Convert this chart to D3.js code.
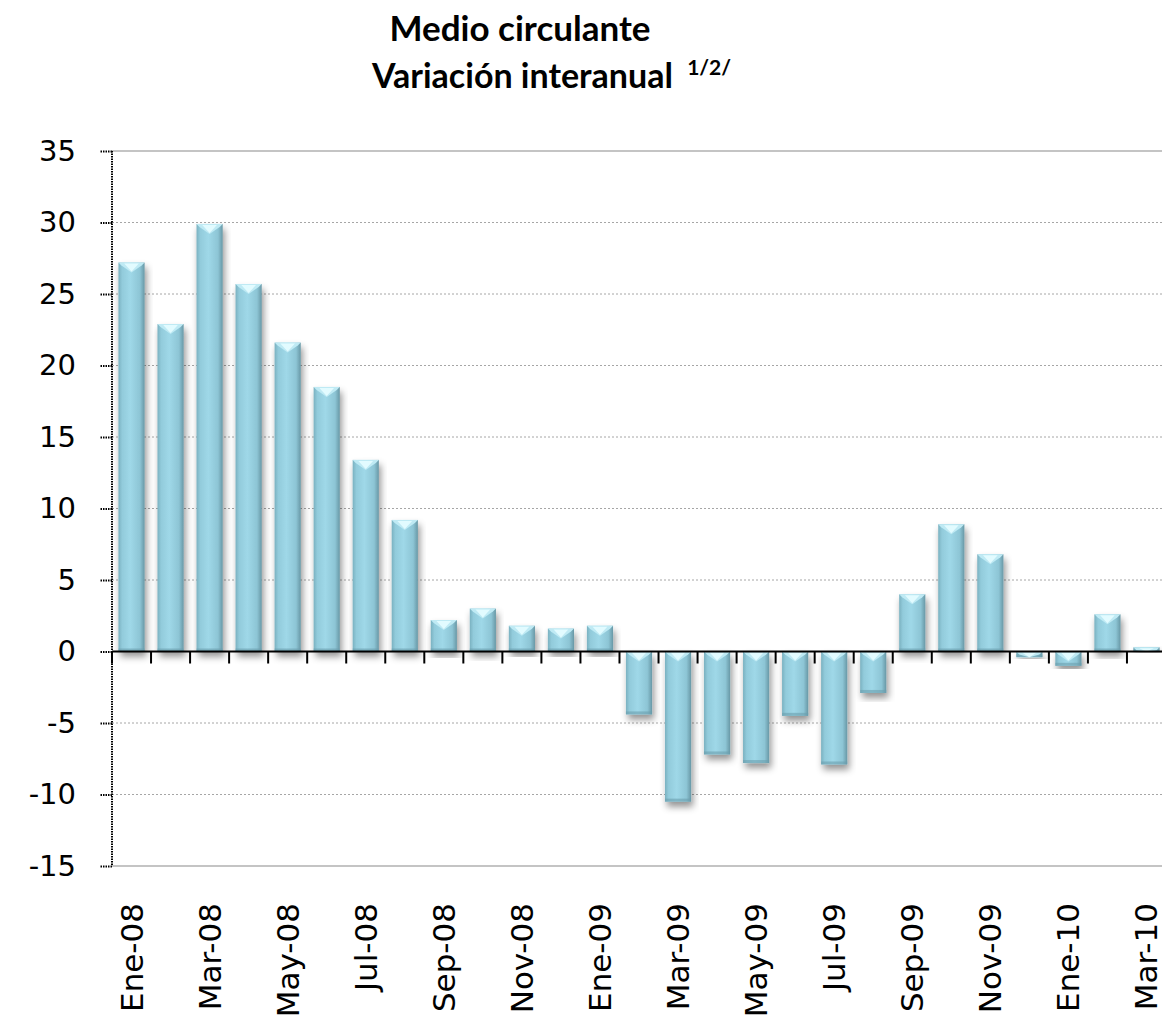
<!DOCTYPE html>
<html lang="es">
  <head>
    <meta charset="utf-8">
    <title>Medio circulante</title>
    <style>
      body { margin: 0; background: #fff; }
      .tick text { font-family: "DejaVu Sans", sans-serif; fill: #000; }
      .title { font-family: Lato, "Open Sans", sans-serif; font-weight: 700; fill: #000; }
      .grid { stroke: #a6a6a6; stroke-width: 1px; stroke-dasharray: 2px 2px; }
      .border { stroke: #b0b0b0; stroke-width: 1.5px; }
    </style>
  </head>
  <body>
    <svg width="1162" height="1017"></svg>
    <script src="https://d3js.org/d3.v7.min.js"></script>
    <script>

      // months, Ene-08 .. Mar-10
      var months = ["Ene-08","Feb-08","Mar-08","Abr-08","May-08","Jun-08","Jul-08","Ago-08","Sep-08","Oct-08","Nov-08","Dic-08",
                    "Ene-09","Feb-09","Mar-09","Abr-09","May-09","Jun-09","Jul-09","Ago-09","Sep-09","Oct-09","Nov-09","Dic-09",
                    "Ene-10","Feb-10","Mar-10"];

      var values = [27.2, 22.9, 29.9, 25.7, 21.6, 18.5, 13.4, 9.2, 2.2, 3.0, 1.8, 1.6,
                    1.8, -4.4, -10.5, -7.2, -7.8, -4.5, -7.9, -2.9, 4.0, 8.9, 6.8, -0.4,
                    -1.0, 2.6, 0.3];

      var yTicks = [-15, -10, -5, 0, 5, 10, 15, 20, 25, 30, 35];

      // only every second month gets a label
      var xLabels = months.filter(function(d, i) { return i % 2 == 0; });

      var svg = d3.select("svg");

      var pLeft = 112, pRight = 1166, pTop = 151, pBottom = 866;

      var xScale = d3.scaleBand()
                     .domain(months)
                     .range([pLeft, pRight])
                     .paddingInner(0.33)
                     .paddingOuter(0.165);

      var yScale = d3.scaleLinear()
                     .domain([-15, 35])
                     .range([pBottom, pTop]);

      var defs = svg.append("defs");

      var grad = defs.append("linearGradient")
                     .attr("id", "barFill")
                     .attr("x1", "0%").attr("x2", "100%")
                     .attr("y1", "0%").attr("y2", "0%");
      grad.append("stop").attr("offset", "0%").attr("stop-color", "#7ab1c0");
      grad.append("stop").attr("offset", "14%").attr("stop-color", "#92cbdb");
      grad.append("stop").attr("offset", "45%").attr("stop-color", "#9fd8e8");
      grad.append("stop").attr("offset", "82%").attr("stop-color", "#8dc5d5");
      grad.append("stop").attr("offset", "100%").attr("stop-color", "#6898a6");

      var shadow = defs.append("filter")
                       .attr("id", "shadow")
                       .attr("x", "-30%").attr("y", "-10%")
                       .attr("width", "160%").attr("height", "130%");
      shadow.append("feDropShadow")
            .attr("dx", 2).attr("dy", 5)
            .attr("stdDeviation", 3.5)
            .attr("flood-color", "#000")
            .attr("flood-opacity", 0.42);

      //gridlines--------------------
      svg.selectAll("line.grid")
         .data(yTicks.filter(function(d) { return d != 0 && d != 35 && d != -15; }))
         .enter()
         .append("line")
         .attr("class", "grid")
         .attr("x1", pLeft).attr("x2", pRight)
         .attr("y1", function(d) { return yScale(d); })
         .attr("y2", function(d) { return yScale(d); });

      svg.selectAll("line.border")
         .data([35, -15])
         .enter()
         .append("line")
         .attr("class", "border")
         .attr("x1", pLeft).attr("x2", pRight)
         .attr("y1", function(d) { return yScale(d); })
         .attr("y2", function(d) { return yScale(d); });

      //bars--------------------
      var bars = svg.selectAll("g.bar")
                    .data(values)
                    .enter()
                    .append("g")
                    .attr("class", "bar")
                    .attr("filter", "url(#shadow)");

      bars.append("rect")
          .attr("x", function(d, i) { return xScale(months[i]); })
          .attr("y", function(d) { return yScale(Math.max(d, 0)); })
          .attr("width", xScale.bandwidth())
          .attr("height", function(d) { return Math.abs(yScale(d) - yScale(0)); })
          .attr("fill", "url(#barFill)");

      // darker bottom edge
      bars.append("rect")
          .attr("x", function(d, i) { return xScale(months[i]); })
          .attr("y", function(d) {
            var h = Math.abs(yScale(d) - yScale(0));
            return yScale(Math.min(d, 0)) - Math.min(3, h);
          })
          .attr("width", xScale.bandwidth())
          .attr("height", function(d) { return Math.min(3, Math.abs(yScale(d) - yScale(0))); })
          .attr("fill", "#6a9fae")
          .attr("opacity", 0.6);

      // light bevel on the top end
      bars.append("path")
          .attr("fill", "#bfeaf4")
          .attr("d", function(d, i) {
            var x0 = xScale(months[i]), w = xScale.bandwidth();
            var y0 = yScale(Math.max(d, 0));
            var h = Math.min(10, Math.abs(yScale(d) - yScale(0)));
            return "M" + x0 + "," + y0 + "H" + (x0 + w) + "L" + (x0 + w - 3) + "," + (y0 + Math.min(3, h)) +
                   "L" + (x0 + w / 2) + "," + (y0 + h) + "L" + (x0 + 3) + "," + (y0 + Math.min(3, h)) + "Z";
          });

      bars.append("path")
          .attr("fill", "#e2fbff")
          .attr("d", function(d, i) {
            var x0 = xScale(months[i]), w = xScale.bandwidth();
            var y0 = yScale(Math.max(d, 0));
            var h = Math.min(9, Math.abs(yScale(d) - yScale(0)));
            return "M" + (x0 + w * 0.22) + "," + (y0 + 1) + "H" + (x0 + w * 0.78) +
                   "L" + (x0 + w / 2) + "," + (y0 + h) + "Z";
          });

      //y axis--------------------
      var yAxis = d3.axisLeft(yScale)
                    .tickValues(yTicks)
                    .tickSize(12)
                    .tickPadding(24)
                    .tickFormat(function(d) { return String(d); });

      var gy = svg.append("g")
                  .attr("transform", "translate(" + pLeft + ",0)")
                  .call(yAxis);

      gy.select(".domain").remove();
      gy.selectAll(".tick line")
        .attr("stroke", "#000")
        .attr("stroke-width", 2)
        .attr("stroke-dasharray", "1.5,1");
      gy.selectAll(".tick text")
        .style("font-size", "29px");

      gy.append("line")
        .attr("x1", 0).attr("x2", 0)
        .attr("y1", pTop).attr("y2", pBottom)
        .attr("stroke", "#000")
        .attr("stroke-width", 2)
        .attr("stroke-dasharray", "1.5,1");

      //x axis at zero--------------------
      var edges = months.map(function(d) { return xScale(d) - xScale.step() * xScale.paddingInner() / 2; });
      edges.push(pRight);

      svg.selectAll("line.xtick")
         .data(edges)
         .enter()
         .append("line")
         .attr("class", "xtick")
         .attr("x1", function(d) { return d; })
         .attr("x2", function(d) { return d; })
         .attr("y1", yScale(0))
         .attr("y2", yScale(0) + 12)
         .attr("stroke", "#000")
         .attr("stroke-width", 2);

      svg.append("line")
         .attr("x1", pLeft).attr("x2", pRight)
         .attr("y1", yScale(0)).attr("y2", yScale(0))
         .attr("stroke", "#000")
         .attr("stroke-width", 2);

      svg.selectAll("text.xlab")
         .data(xLabels)
         .enter()
         .append("text")
         .attr("class", "xlab")
         .attr("transform", function(d) {
           return "translate(" + (xScale(d) + xScale.bandwidth() / 2 + 11) + ",903) rotate(-90)";
         })
         .style("text-anchor", "end")
         .style("font-family", "DejaVu Sans, sans-serif")
         .style("font-size", "31px")
         .text(function(d) { return d; });

      //title--------------------
      svg.append("text")
         .attr("class", "title")
         .attr("x", 520)
         .attr("y", 41)
         .style("text-anchor", "middle")
         .style("font-size", "35px")
         .text("Medio circulante");

      var t2 = svg.append("text")
                  .attr("class", "title")
                  .attr("x", 372)
                  .attr("y", 88)
                  .style("font-size", "34px")
                  .text("Variación interanual ");
      t2.append("tspan")
        .attr("dx", 6)
        .attr("dy", -13)
        .style("font-size", "21px")
        .text("1/2/");

    </script>
  </body>
</html>
